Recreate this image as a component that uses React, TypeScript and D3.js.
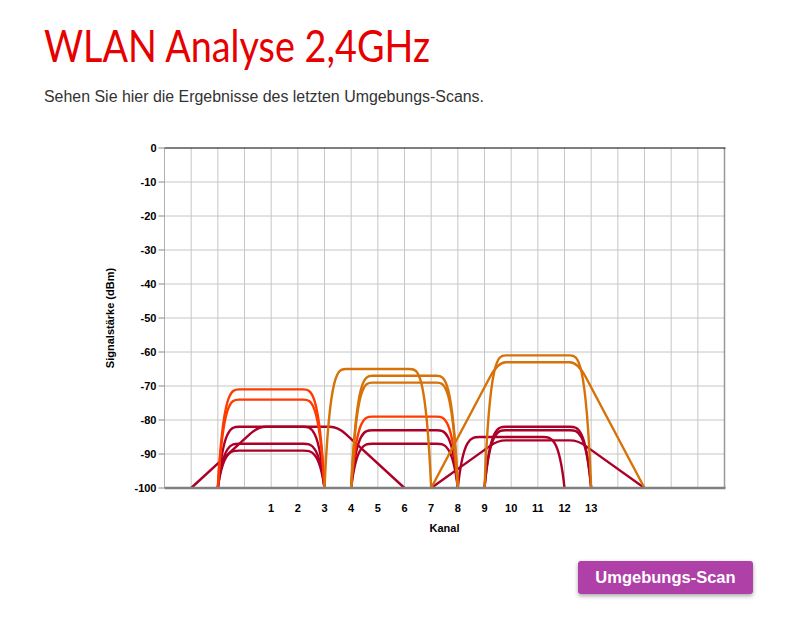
import * as d3 from 'd3';

// Scan results: one entry per network
const netChannels = [1, 1, 1, 1, 1, 2, 5, 6, 6, 6, 6, 6, 11, 11, 10, 11, 11, 11];
const netSignals = [-71, -74, -82, -87, -89, -82, -65, -67, -69, -79, -83, -87, -63, -86, -85, -61, -82, -83];
// 'ofdm' = rounded 20 MHz shape, 'dsss' = 22 MHz sloped shape
const netKinds = ['ofdm', 'ofdm', 'ofdm', 'ofdm', 'ofdm', 'dsss', 'ofdm', 'ofdm', 'ofdm', 'ofdm', 'ofdm', 'ofdm', 'dsss', 'dsss', 'ofdm', 'ofdm', 'ofdm', 'ofdm'];
// colour group per network
const netGroups = [1, 1, 2, 2, 2, 2, 0, 0, 0, 1, 2, 2, 0, 2, 2, 0, 2, 2];

const channelTicks = [1, 2, 3, 4, 5, 6, 7, 8, 9, 10, 11, 12, 13];
const dbmTicks = [0, -10, -20, -30, -40, -50, -60, -70, -80, -90, -100];
const gridChannels = d3.range(-2, 18);

const GROUP_COLORS = ['#d77208', '#ff3b00', '#ad0029'];

const W = 808;
const H = 623;
const PLOT_L = 164.5;
const PLOT_R = 724.5;
const PLOT_T = 148;
const PLOT_B = 488;

const FONT = '"Liberation Sans", Arial, sans-serif';

export default function App() {
  const x = d3.scaleLinear().domain([-3, 18]).range([PLOT_L, PLOT_R]);
  const y = d3.scaleLinear().domain([0, -100]).range([PLOT_T, PLOT_B]);

  const ofdmPath = (c: number, s: number) => {
    const a = c - 2;
    const b = c + 2;
    const T = 0.8;
    const p = d3.path();
    p.moveTo(x(a), y(-100));
    p.bezierCurveTo(x(a + 0.2), y(s), x(a + 0.5), y(s), x(a + T), y(s));
    p.lineTo(x(b - T), y(s));
    p.bezierCurveTo(x(b - 0.5), y(s), x(b - 0.2), y(s), x(b), y(-100));
    return p.toString();
  };

  const dsssPath = (c: number, s: number) => {
    const a = c - 4;
    const b = c + 4;
    const p1 = c - 1.5;
    const p2 = c + 1.5;
    const r = 0.3;
    const sideY = s + (-100 - s) * (r / (p1 - a));
    const p = d3.path();
    p.moveTo(x(a), y(-100));
    p.lineTo(x(p1 - r), y(sideY));
    p.quadraticCurveTo(x(p1), y(s), x(p1 + r), y(s));
    p.lineTo(x(p2 - r), y(s));
    p.quadraticCurveTo(x(p2), y(s), x(p2 + r), y(sideY));
    p.lineTo(x(b), y(-100));
    return p.toString();
  };

  const order = d3.range(netChannels.length).sort((i, j) => netGroups[j] - netGroups[i]);

  return (
    <div style={{ position: 'absolute', left: 0, top: 0 }}>
      <svg width={W} height={H} style={{ display: 'block', background: '#fff' }}>
        <defs>
          <filter id="btnShadow" x="-10%" y="-30%" width="120%" height="180%">
            <feDropShadow dx="0" dy="2" stdDeviation="2" floodColor="#000" floodOpacity="0.35" />
          </filter>
        </defs>

        <text x={44} y={62} fill="#e60000" fontFamily="Lato, 'Open Sans', sans-serif" fontSize={44}
          textLength={386} lengthAdjust="spacingAndGlyphs">
          WLAN Analyse 2,4GHz
        </text>
        <text x={44} y={102} fill="#333" fontFamily={FONT} fontSize={16}
          textLength={440} lengthAdjust="spacingAndGlyphs">
          Sehen Sie hier die Ergebnisse des letzten Umgebungs-Scans.
        </text>

        {/* grid */}
        {gridChannels.map(c => (
          <line key={`gx${c}`} x1={x(c)} x2={x(c)} y1={PLOT_T} y2={PLOT_B} stroke="#c6c6c6" strokeWidth={1} />
        ))}
        {dbmTicks.filter(v => v !== 0 && v !== -100).map(v => (
          <line key={`gy${v}`} x1={PLOT_L} x2={PLOT_R} y1={y(v)} y2={y(v)} stroke="#c6c6c6" strokeWidth={1} />
        ))}
        <line x1={PLOT_L} x2={PLOT_L} y1={PLOT_T} y2={PLOT_B} stroke="#b0b0b0" strokeWidth={1} />
        <line x1={PLOT_R} x2={PLOT_R} y1={PLOT_T} y2={PLOT_B} stroke="#999" strokeWidth={1.5} />
        <line x1={PLOT_L} x2={PLOT_R + 1} y1={y(0)} y2={y(0)} stroke="#000" strokeWidth={1.2} />

        {/* networks */}
        {order.map(i => (
          <path
            key={`n${i}`}
            d={netKinds[i] === 'dsss' ? dsssPath(netChannels[i], netSignals[i]) : ofdmPath(netChannels[i], netSignals[i])}
            fill="none"
            stroke={GROUP_COLORS[netGroups[i]]}
            strokeWidth={2.4}
            strokeLinejoin="round"
          />
        ))}

        <line x1={PLOT_L} x2={PLOT_R + 1} y1={y(-100)} y2={y(-100)} stroke="#808080" strokeWidth={2.5} />

        {/* y axis */}
        {dbmTicks.map(v => (
          <g key={`ty${v}`}>
            <line x1={PLOT_L - 6} x2={PLOT_L} y1={y(v)} y2={y(v)} stroke="#888" strokeWidth={1} />
            <text x={PLOT_L - 8} y={y(v)} dy="0.35em" textAnchor="end" fontFamily={FONT}
              fontSize={11} fontWeight="bold" fill="#000">
              {v}
            </text>
          </g>
        ))}
        <text transform={`translate(114,${(PLOT_T + PLOT_B) / 2}) rotate(-90)`} textAnchor="middle"
          fontFamily={FONT} fontSize={11} fontWeight="bold" fill="#000">
          Signalstärke (dBm)
        </text>

        {/* x axis */}
        {channelTicks.map(c => (
          <text key={`tx${c}`} x={x(c)} y={512} textAnchor="middle" fontFamily={FONT}
            fontSize={11} fontWeight="bold" fill="#000">
            {c}
          </text>
        ))}
        <text x={(PLOT_L + PLOT_R) / 2} y={532} textAnchor="middle" fontFamily={FONT}
          fontSize={11} fontWeight="bold" fill="#000">
          Kanal
        </text>

        {/* button */}
        <rect x={578} y={561} width={175} height={33} rx={3} fill="#ae3fa8" filter="url(#btnShadow)" />
        <text x={665.5} y={583} textAnchor="middle" fontFamily={FONT} fontSize={16.5}
          fontWeight="bold" fill="#fff">
          Umgebungs-Scan
        </text>
      </svg>
    </div>
  );
}
